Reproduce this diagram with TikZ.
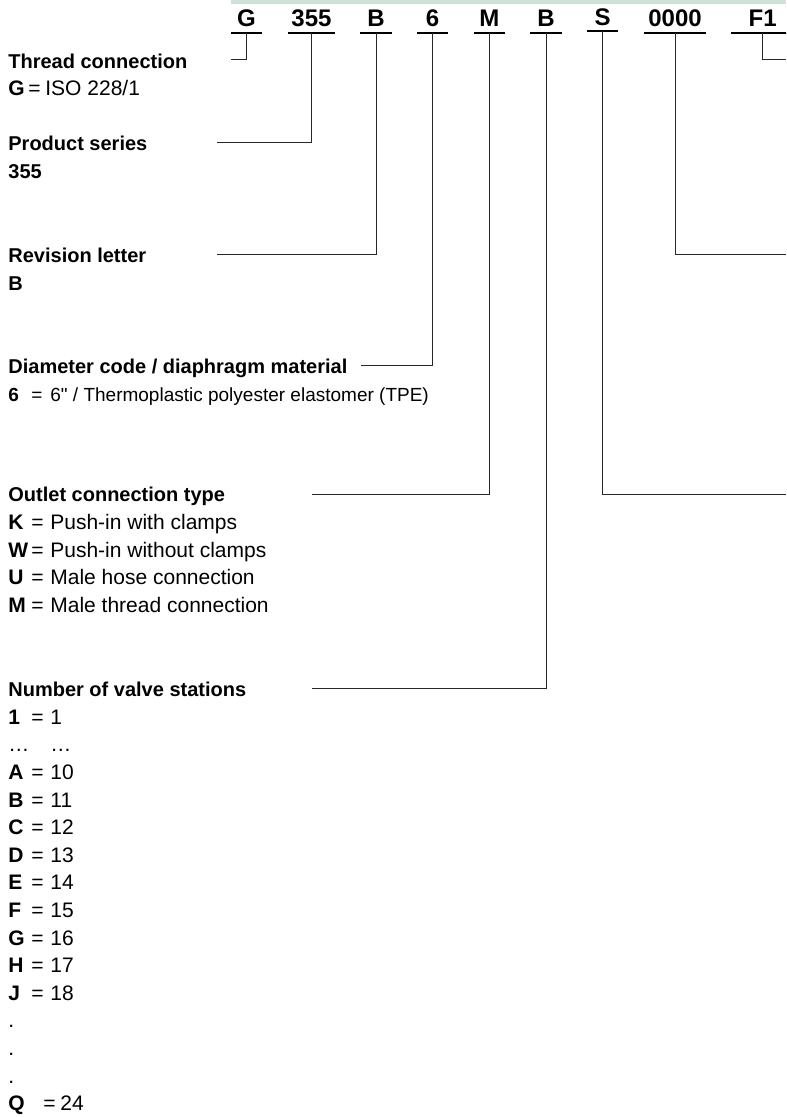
\documentclass[tikz,border=0pt]{standalone}
\usepackage{fontspec}
\setmainfont{Liberation Sans}
\usetikzlibrary{positioning}

\definecolor{bandgreen}{RGB}{206,227,214}
\definecolor{leadgray}{RGB}{40,40,40}

% key = value line of the legend
\newcommand{\keyval}[2]{\makebox[11.5pt][l]{\bfseries #1}\makebox[9.5pt][l]{=}#2}

\tikzset{
    code/.style={anchor=base, font=\bfseries\fontsize{12}{14}\selectfont,
        inner xsep=0pt, inner ysep=2.65pt, text depth=0pt, minimum width=#1},
    underline/.style={line width=1pt, black},
    leader/.style={line width=0.5pt, leadgray},
    title/.style={anchor=base west, inner sep=0pt, font=\bfseries\fontsize{10}{12}\selectfont},
    item/.style={anchor=base west, inner sep=0pt, font=\fontsize{10.5}{12}\selectfont}
}

\begin{document}
\begin{tikzpicture}[x=0.5pt, y=-0.5pt]
    \clip (0,0) rectangle (786,1117);

    % --- ORDER CODE ---
    \fill[bandgreen] (231,0) rectangle (786,4);
    \foreach \name/\txt/\x/\y/\w in {cG/G/246.5/27/15.25pt, cSer/355/311.5/27/23pt,
        cRev/B/376/27/15.25pt, cDia/6/432.5/27/15.25pt, cOut/M/489.3/27/15.25pt,
        cNum/B/546/27/15.25pt, cS/S/602.7/25.4/15.25pt, cZero/0000/675/27/30.5pt,
        cF/F1/762.7/27/31pt} {
        \node[code=\w] (\name) at (\x,\y) {\txt};
        \draw[underline] (\name.south west) -- (\name.south east);
    }

    % --- LEFT LEGEND ---
    \node[title] (tThread) at (8,68.3) {Thread connection};
    \node[item] (iThread) at (8,96) {\makebox[10pt][l]{\bfseries G}\makebox[8.5pt][l]{=}ISO 228/1};

    \node[title] (tSer) at (8,151) {Product series};
    \node[title] (iSer) at (8,178.7) {355};

    \node[title] (tRev) at (8,262.5) {Revision letter};
    \node[title] (iRev) at (8,290.2) {B};

    \node[title] (tDia) at (8,373.3) {Diameter code / diaphragm material};
    \node[item, font=\fontsize{9.5}{11}\selectfont] (iDia) at (8,401.3)
        {\keyval{6}{6\textquotedbl{} / Thermoplastic polyester elastomer (TPE)}};

    \node[title] (tOut) at (8,501.7) {Outlet connection type};
    \foreach \k/\v [count=\i] in {K/Push-in with clamps, W/Push-in without clamps,
        U/Male hose connection, M/Male thread connection} {
        \node[item] (iOut\i) at (8,501.7+27.7*\i) {\keyval{\k}{\v}};
    }

    \node[title] (tNum) at (8,696.7) {Number of valve stations};
    \foreach \k/\v [count=\i] in {1/1, {}/{}, A/10, B/11, C/12, D/13, E/14, F/15,
        G/16, H/17, J/18} {
        \ifnum\i=2
            \node[item] (iNum\i) at (8,696.7+27.6*\i) {\makebox[21pt][l]{…}…};
        \else
            \node[item] (iNum\i) at (8,696.7+27.6*\i) {\keyval{\k}{\v}};
        \fi
    }
    \foreach \i in {12,13,14} {
        \node[item] (iNum\i) at (8,696.7+27.6*\i) {.};
    }
    \node[item] (iNum15) at (8,1110.7) {\makebox[17.5pt][l]{\bfseries Q}\makebox[8.5pt][l]{=}24};

    % --- LEADERS ---
    \coordinate (eG) at (231,60);
    \coordinate (eSer) at (217,142.8);
    \coordinate (eRev) at (217,254.2);
    \coordinate (eDia) at (361,365);
    \coordinate (eOut) at (311.7,494);
    \coordinate (eNum) at (311.7,688.3);
    \coordinate (eS) at (786,494);
    \coordinate (eZero) at (786,254.3);
    \coordinate (eF) at (786,60);
    \foreach \name in {G,Ser,Rev,Dia,Out,Num,S,Zero,F} {
        \draw[leader] (c\name.south) |- (e\name);
    }

\end{tikzpicture}
\end{document}
